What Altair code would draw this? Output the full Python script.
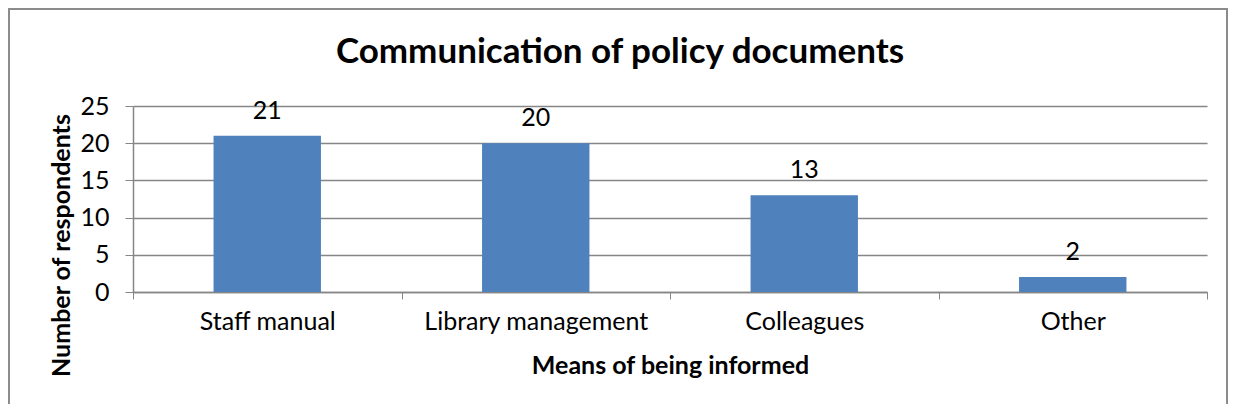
import altair as alt
import pandas as pd

categories = ["Staff manual", "Library management", "Colleagues", "Other"]
values = [21, 20, 13, 2]
y_ticks = [0, 5, 10, 15, 20, 25]
chart_title = "Communication of policy documents"

df = pd.DataFrame({"means": categories, "count": values})
title_df = pd.DataFrame({"t": [chart_title]})

FONT = "Lato"
GRID = "#868686"
FS = 25

x_enc = alt.X(
    "means:N",
    sort=categories,
    title="Means of being informed",
    scale=alt.Scale(paddingInner=0, paddingOuter=0),
    axis=alt.Axis(
        labelAngle=0,
        labelFont=FONT,
        labelFontSize=FS,
        labelColor="#000000",
        labelPadding=10,
        labelBaseline="top",
        labelLimit=0,
        labelOverlap=False,
        tickBand="extent",
        ticks=True,
        tickSize=7,
        tickColor=GRID,
        domainColor=GRID,
        domainWidth=1.5,
        titleFont=FONT,
        titleFontSize=FS,
        titleFontWeight="bold",
        titleColor="#000000",
        titleBaseline="alphabetic",
        titleY=81,
        grid=False,
    ),
)

y_enc = alt.Y(
    "count:Q",
    title="Number of respondents",
    scale=alt.Scale(domain=[0, 25], nice=False),
    axis=alt.Axis(
        values=y_ticks,
        labelFont=FONT,
        labelFontSize=FS,
        labelColor="#000000",
        labelPadding=16,
        labelOverlap=False,
        labelFlush=False,
        tickSize=8,
        tickColor=GRID,
        domainColor=GRID,
        domainWidth=1.5,
        grid=True,
        gridColor=GRID,
        gridWidth=1.5,
        titleFont=FONT,
        titleFontSize=FS,
        titleFontWeight="bold",
        titleColor="#000000",
        titleAngle=-90,
        titleBaseline="middle",
        titleAlign="center",
        titleX=-72,
        titleY=139,
    ),
)

bars = alt.Chart(df).mark_bar(
    color="#4F81BD", width=alt.RelativeBandSize(0.4)
).encode(x=x_enc, y=y_enc)

labels = alt.Chart(df).mark_text(
    font=FONT, fontSize=FS, color="#000000", baseline="middle", dy=-25
).encode(x=x_enc, y=y_enc, text="count:Q")

frame = alt.Chart(df).mark_rect(
    fill=None, stroke="#8c8c8c", strokeWidth=2
).encode(
    x=alt.value(-124),
    x2=alt.value(1094),
    y=alt.value(-97),
    y2=alt.value(400),
)

title = alt.Chart(title_df).mark_text(
    font=FONT, fontSize=35, fontWeight="bold", color="#000000",
    align="center", baseline="alphabetic",
).encode(text="t:N", x=alt.value(487), y=alt.value(-43))

chart = alt.layer(frame, bars, labels, title).properties(
    width=1074,
    height=186,
    autosize=alt.AutoSizeParams(type="none"),
    padding={"left": 125, "top": 98, "right": 21, "bottom": 112},
).configure_view(stroke=None)

chart.save("out.html", embed_options={"renderer": "svg", "actions": False})
